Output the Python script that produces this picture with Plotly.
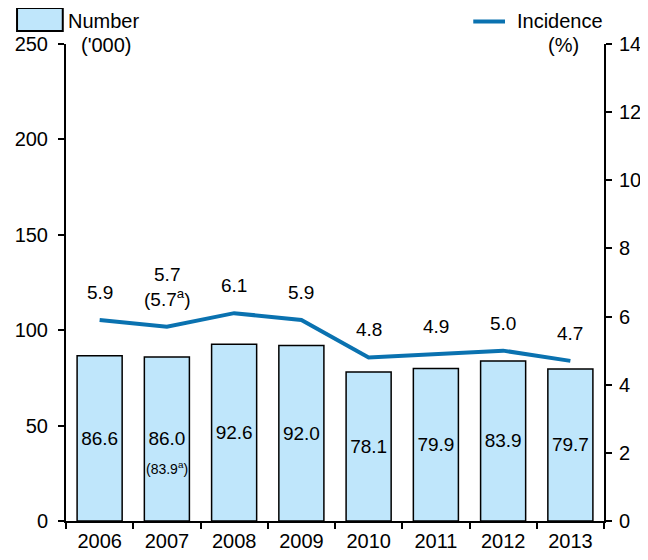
import plotly.graph_objects as go

years = ["2006", "2007", "2008", "2009", "2010", "2011", "2012", "2013"]
number = [86.6, 86.0, 92.6, 92.0, 78.1, 79.9, 83.9, 79.7]
incidence = [5.9, 5.7, 6.1, 5.9, 4.8, 4.9, 5.0, 4.7]
number_labels = ["86.6", "86.0", "92.6", "92.0", "78.1", "79.9", "83.9", "79.7"]
incidence_labels = ["5.9", "5.7<br>(5.7<sup>a</sup>)", "6.1", "5.9", "4.8", "4.9", "5.0", "4.7"]

FONT = "Liberation Sans, Arial, sans-serif"
BAR_FILL = "#BFE6FB"
LINE_BLUE = "#0A72B0"

fig = go.Figure()

fig.add_trace(
    go.Bar(
        x=years,
        y=number,
        text=number_labels,
        textposition="inside",
        insidetextanchor="middle",
        textangle=0,
        textfont=dict(size=19, color="black", family=FONT),
        marker=dict(color=BAR_FILL, line=dict(color="black", width=1.5)),
        width=0.67,
        yaxis="y",
    )
)

fig.add_trace(
    go.Scatter(
        x=years,
        y=incidence,
        mode="lines",
        line=dict(color=LINE_BLUE, width=4),
        yaxis="y2",
    )
)

# labels above the incidence line (category index as x)
for i, (val, lab) in enumerate(zip(incidence, incidence_labels)):
    fig.add_annotation(
        x=i, y=val, xref="x", yref="y2", text=lab, showarrow=False,
        yanchor="bottom", yshift=15,
        font=dict(size=19, family=FONT, color="black"),
    )

# revised 2007 number under the bar label
fig.add_annotation(
    x=1, y=number[1] / 2, xref="x", yref="y", text="(83.9<sup>a</sup>)",
    showarrow=False, yshift=-29, font=dict(size=14, family=FONT, color="black"),
)

# legend drawn by hand
fig.add_shape(
    type="rect", xref="paper", yref="paper",
    x0=-0.091, x1=-0.006, y0=1.027, y1=1.0755,
    fillcolor=BAR_FILL, line=dict(color="black", width=2),
)
fig.add_shape(
    type="line", xref="paper", yref="paper",
    x0=0.757, x1=0.816, y0=1.047, y1=1.047,
    line=dict(color=LINE_BLUE, width=4),
)
legend_texts = [
    ("Number", 0.0, 1.049, "left"),
    ("('000)", 0.076, 0.997, "center"),
    ("Incidence", 0.834, 1.049, "left"),
    ("(%)", 0.924, 0.997, "center"),
]
for txt, xx, yy, anchor in legend_texts:
    fig.add_annotation(
        x=xx, y=yy, xref="paper", yref="paper", text=txt, showarrow=False,
        xanchor=anchor, yanchor="middle",
        font=dict(size=20, family=FONT, color="black"),
    )

# page body has an 8px margin, so the figure is 16px smaller than the window
fig.update_layout(
    width=632,
    height=544,
    margin=dict(l=58, r=36, t=36, b=31),
    plot_bgcolor="white",
    paper_bgcolor="white",
    showlegend=False,
    font=dict(family=FONT, size=20, color="black"),
    xaxis=dict(
        type="category",
        range=[-0.5, 7.5],
        automargin=False,
        showline=True, linecolor="black", linewidth=2,
        ticks="outside", tickson="boundaries", ticklen=6, tickcolor="black", tickwidth=2,
        ticklabelstandoff=1,
        showgrid=False,
        tickangle=0,
        tickfont=dict(size=20),
    ),
    yaxis=dict(
        range=[0, 250], dtick=50,
        automargin=False,
        showline=True, linecolor="black", linewidth=2,
        ticks="outside", ticklen=6, tickcolor="black", tickwidth=2,
        ticklabelstandoff=6,
        showgrid=False, zeroline=False,
        tickfont=dict(size=20),
    ),
    yaxis2=dict(
        range=[0, 14], dtick=2, overlaying="y", side="right",
        automargin=False,
        showline=True, linecolor="black", linewidth=2,
        ticks="outside", ticklen=6, tickcolor="black", tickwidth=2,
        ticklabelstandoff=3,
        showgrid=False, zeroline=False,
        tickfont=dict(size=20),
    ),
)

fig.write_html("out.html")
